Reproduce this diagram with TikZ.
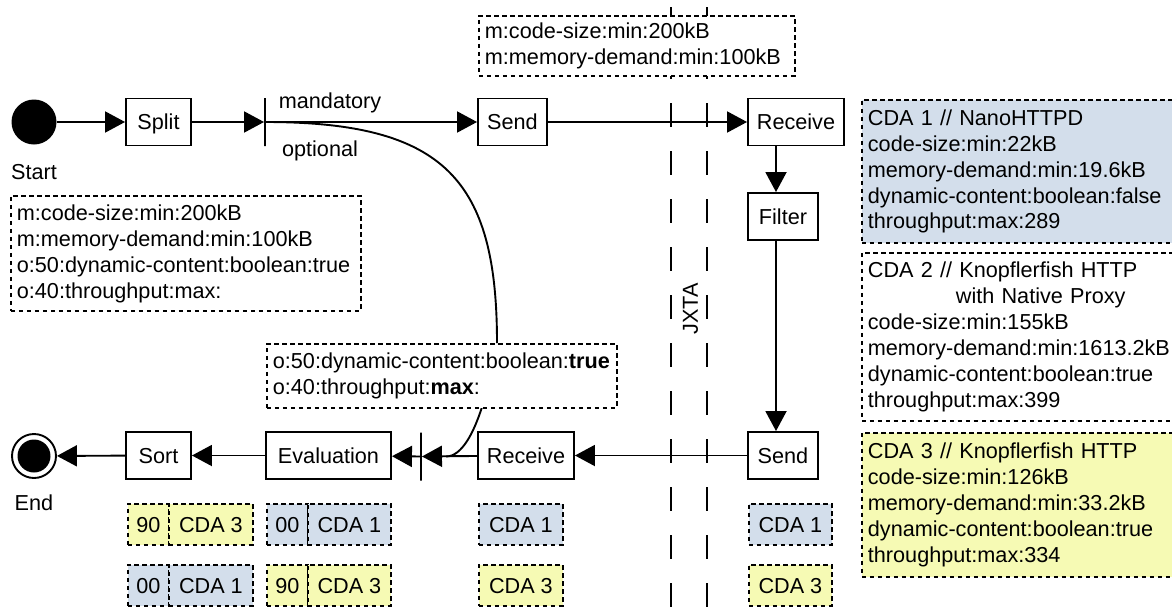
\documentclass[tikz,border=0pt]{standalone}
\usepackage{fontspec}
\setmainfont{Liberation Sans}
\usetikzlibrary{arrows.meta}
\definecolor{cdablue}{RGB}{211,222,235}
\definecolor{cdayellow}{RGB}{246,250,180}
\begin{document}
\begin{tikzpicture}[x=1pt,y=-1pt,
 every node/.style={font=\fontsize{21.65}{26}\selectfont},
 proc/.style={draw, line width=1.9pt, minimum height=47pt, inner sep=0pt, text height=15.5pt, text depth=0pt},
 arr/.style={line width=1.9pt, -{Triangle[length=20pt,width=21pt]}},
 conn/.style={line width=1.9pt},
 dbox/.style={draw, line width=1.8pt, dash pattern=on 4.5pt off 3.5pt, anchor=north west, inner xsep=6pt, inner ysep=0pt, align=left},
 cell/.style={draw, line width=1.8pt, dash pattern=on 4.5pt off 3.5pt, anchor=north west, inner sep=0pt, minimum height=41pt, text height=15.5pt, text depth=0pt},
 jxta/.style={line width=1.9pt, dash pattern=on 24pt off 24pt},
 bar/.style={draw, line width=1.9pt, minimum width=0pt, minimum height=48pt, inner sep=0pt},
 lbl/.style={inner sep=0pt, text height=15.5pt, text depth=0pt},
]
\useasboundingbox (0,0) rectangle (1172,608);
% JXTA boundary
\coordinate (j1top) at (671,7);
\coordinate (j1bot) at (671,620);
\coordinate (j2top) at (707,7);
\coordinate (j2bot) at (707,620);
\draw[jxta] (j1top) -- (j1bot);
\draw[jxta] (j2top) -- (j2bot);
\node[rotate=90, lbl] (jxtalbl) at (690,309) {JXTA};

% top flow
\node[circle, fill=black, minimum size=45pt, inner sep=0pt] (start) at (34,122) {};
\node[lbl] (startlbl) at (34,172) {Start};
\node[proc, minimum width=65pt] (split) at (158.5,122) {Split};
\node[bar] (fork1) at (265,122) {};
\node[lbl] (mand) at (330,101) {mandatory};
\node[lbl] (optl) at (320,149) {optional};
\node[proc, minimum width=69pt] (send1) at (512.5,122) {Send};
\node[proc, minimum width=96pt] (rcv1) at (796,122) {Receive};
\node[proc, minimum width=70pt] (filt) at (783,216.5) {Filter};

% bottom flow
\node[proc, minimum width=70pt] (send2) at (783,455.5) {Send};
\node[proc, minimum width=96pt] (rcv2) at (526,455.5) {Receive};
\node[bar] (fork2) at (421,456.5) {};
\node[proc, minimum width=125pt] (eval) at (328.5,455.5) {Evaluation};
\node[proc, minimum width=65pt] (sort) at (158.5,455.5) {Sort};
\node[circle, draw, line width=1.9pt, minimum size=44pt, inner sep=0pt] (end) at (34,456) {};
\node[circle, fill=black, minimum size=33pt, inner sep=0pt] (endin) at (end.center) {};
\node[lbl] (endlbl) at (34,503) {End};

% requirement boxes
\node[dbox, fill=white, text width=304pt, minimum height=60pt] (reqtop) at (478,15)
  {m:code-size:min:200kB\\m:memory-demand:min:100kB};
\node[dbox, fill=white, text width=338pt, minimum height=115pt] (reqleft) at (10,195)
  {m:code-size:min:200kB\\m:memory-demand:min:100kB\\o:50:dynamic-content:boolean:true\\o:40:throughput:max:};

% connectors
\draw[arr] (start) -- (split);
\draw[arr] (split) -- (fork1);
\draw[arr] (fork1) -- (send1);
\draw[arr] (send1) -- (rcv1);
\draw[arr] ([xshift=-7pt]filt.north |- rcv1.south) -- ([xshift=-7pt]filt.north);
\draw[arr] ([xshift=-7pt]filt.south) -- ([xshift=-7pt]send2.north);
\draw[arr] (send2) -- (rcv2);
\draw[arr] (rcv2) -- (fork2);
\draw[arr] (fork2) -- (eval);
\draw[arr] (eval) -- (sort);
\draw[arr] (sort) -- (end);

% optional branch curve
\coordinate (optin) at (497,343);
\coordinate (optout) at (482,407);
\coordinate (merge) at (446,456.5);
\draw[conn] (fork1.center) .. controls (445,122) and (497,180) .. (optin);
\draw[conn] (optout) .. controls (474,432) and (462,456.5) .. (merge);
\node[dbox, fill=white, text width=338pt, minimum height=64pt] (optbox) at (266,343)
  {o:50:dynamic-content:boolean:\textbf{true}\\o:40:throughput:\textbf{max}:};

% CDA descriptions
\node[dbox, fill=cdablue, text width=312pt, minimum height=143pt] (cda1) at (861,99)
  {CDA 1 // NanoHTTPD\\code-size:min:22kB\\memory-demand:min:19.6kB\\dynamic-content:boolean:false\\throughput:max:289};
\node[dbox, text width=312pt, minimum height=168pt] (cda2) at (861,252)
  {CDA 2 // Knopflerfish HTTP\\\hspace*{88pt}with Native Proxy\\code-size:min:155kB\\memory-demand:min:1613.2kB\\dynamic-content:boolean:true\\throughput:max:399};
\node[dbox, fill=cdayellow, text width=312pt, minimum height=144pt] (cda3) at (861,432)
  {CDA 3 // Knopflerfish HTTP\\code-size:min:126kB\\memory-demand:min:33.2kB\\dynamic-content:boolean:true\\throughput:max:334};

% ranking cells
\node[cell, fill=cdayellow, minimum width=41pt] (sa) at (127,503) {90};
\node[cell, fill=cdayellow, minimum width=84pt] (sb) at (168,503) {CDA 3};
\node[cell, fill=cdablue, minimum width=41pt] (sc) at (127,564) {00};
\node[cell, fill=cdablue, minimum width=84pt] (sd) at (168,564) {CDA 1};
\node[cell, fill=cdablue, minimum width=41pt] (ea) at (266,503) {00};
\node[cell, fill=cdablue, minimum width=83pt] (eb) at (307,503) {CDA 1};
\node[cell, fill=cdayellow, minimum width=41pt] (ec) at (266,564) {90};
\node[cell, fill=cdayellow, minimum width=83pt] (ed) at (307,564) {CDA 3};
\node[cell, fill=cdablue, minimum width=84pt] (ra) at (478,503) {CDA 1};
\node[cell, fill=cdayellow, minimum width=84pt] (rb) at (478,564) {CDA 3};
\node[cell, fill=cdablue, minimum width=83pt] (na) at (748,503) {CDA 1};
\node[cell, fill=cdayellow, minimum width=83pt] (nb) at (748,564) {CDA 3};
\end{tikzpicture}
\end{document}
